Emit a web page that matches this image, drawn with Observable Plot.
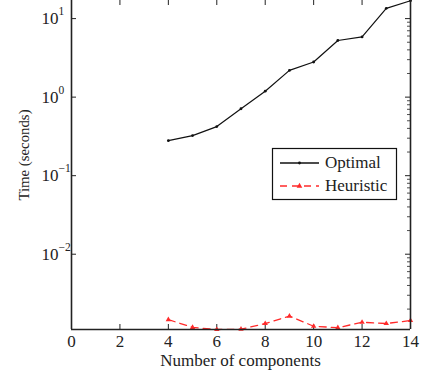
<!DOCTYPE html>
<html>
<head>
<meta charset="utf-8">
<script src="https://cdn.jsdelivr.net/npm/d3@7"></script>
<script src="https://cdn.jsdelivr.net/npm/@observablehq/plot@0.6"></script>
<style>
  html, body { margin: 0; padding: 0; background: #fff; }
  #chart svg { display: block; }
</style>
</head>
<body>
<div id="chart"></div>
<script>
// ---- data ----
const components = [4, 5, 6, 7, 8, 9, 10, 11, 12, 13, 14];
const optimal   = [0.279, 0.324, 0.422, 0.711, 1.19, 2.19, 2.80, 5.26, 5.85, 13.5, 16.9];
const heuristic = [1.47e-3, 1.17e-3, 1.10e-3, 1.11e-3, 1.31e-3, 1.63e-3, 1.21e-3, 1.16e-3, 1.36e-3, 1.31e-3, 1.43e-3];
const xTicks = [0, 2, 4, 6, 8, 10, 12, 14];
const yExponents = [-2, -1, 0, 1];
const seriesNames = ["Optimal", "Heuristic"];
const xLabel = "Number of components";
const yLabel = "Time (seconds)";

const yDomain = [1.1e-3, 17];
const yTicks = yExponents.map(e => 10 ** e);
const minorTicks = [];
for (let e = -3; e <= 1; e++) for (let m = 2; m <= 9; m++) {
  const v = m * 10 ** e;
  if (v > yDomain[0] && v < yDomain[1]) minorTicks.push(v);
}

const optData = components.map((c, i) => ({c, v: optimal[i]}));
const heuData = components.map((c, i) => ({c, v: heuristic[i]}));

const W = 425, H = 377, mL = 71, mR = 15, mT = 0, mB = 48;
const pw = W - mL - mR, ph = H - mT - mB;
const red = "#ff2a2a";
const ink = "#222";

const plot = Plot.plot({
  width: W, height: H,
  marginLeft: mL, marginRight: mR, marginTop: mT, marginBottom: mB,
  style: {fontFamily: "'Liberation Serif', 'Times New Roman', serif", fontSize: "16px", color: ink, background: "#fff"},
  x: {domain: [0, 14]},
  y: {type: "log", domain: yDomain},
  marks: [
    // axis ticks (inward)
    Plot.tickX(xTicks, {x: d => d, insetTop: ph - 5, stroke: ink}),
    Plot.tickX(xTicks, {x: d => d, insetBottom: ph - 5, stroke: ink}),
    Plot.tickY(yTicks, {y: d => d, insetRight: pw - 5, stroke: ink}),
    Plot.tickY(yTicks, {y: d => d, insetLeft: pw - 5, stroke: ink}),
    Plot.tickY(minorTicks, {y: d => d, insetLeft: pw - 3, stroke: ink, strokeOpacity: 0.8}),
    // series
    Plot.line(optData, {x: "c", y: "v", stroke: "#111", strokeWidth: 1.2}),
    Plot.dot(optData, {x: "c", y: "v", r: 1.4, fill: "#111"}),
    Plot.line(heuData, {x: "c", y: "v", stroke: red, strokeWidth: 1.3, strokeDasharray: "7,5"}),
    Plot.dot(heuData, {x: "c", y: "v", r: 2, symbol: "triangle", fill: red}),
    // axis frame lines
    Plot.ruleX([0, 14], {stroke: ink, strokeWidth: 1.6}),
    Plot.ruleY([yDomain[0]], {stroke: ink, strokeWidth: 1.6}),
    // x tick labels
    Plot.axisX({ticks: xTicks, tickSize: 0, tickPadding: 5, label: null, fontSize: 17}),
    // y tick labels 10^k
    Plot.text(yExponents, {y: e => 10 ** e, text: () => "10", frameAnchor: "left", textAnchor: "end", dx: -13, fontSize: 17, fill: ink}),
    Plot.text(yExponents, {y: e => 10 ** e, text: e => e < 0 ? "\u2212" + (-e) : String(e), frameAnchor: "left", textAnchor: "start", dx: -13, dy: -7, fontSize: 11.5, fill: ink}),
    Plot.axisY({ticks: [], tickSize: 0, label: null})
  ]
});

const svg = d3.select(plot);
// axis titles
svg.append("text")
  .attr("x", mL + pw / 2).attr("y", 366)
  .attr("text-anchor", "middle")
  .attr("font-size", 17).attr("fill", ink)
  .text(xLabel);
svg.append("text")
  .attr("transform", `translate(29,155) rotate(-90)`)
  .attr("text-anchor", "middle")
  .attr("font-size", 14.8).attr("fill", ink)
  .text(yLabel);

// legend
const lg = svg.append("g");
lg.append("rect").attr("x", 272.5).attr("y", 148.5).attr("width", 124).attr("height", 51)
  .attr("fill", "#fff").attr("stroke", "#111").attr("stroke-width", 1.2);
const rows = [
  {name: seriesNames[0], color: "#111", dash: null, y: 163},
  {name: seriesNames[1], color: red, dash: "7,5", y: 186}
];
rows.forEach((r, i) => {
  lg.append("line").attr("x1", 280).attr("x2", 319).attr("y1", r.y).attr("y2", r.y)
    .attr("stroke", r.color).attr("stroke-width", 1.3).attr("stroke-dasharray", r.dash);
  if (i === 0) lg.append("circle").attr("cx", 299.5).attr("cy", r.y).attr("r", 1.4).attr("fill", r.color);
  else lg.append("path").attr("d", d3.symbol(d3.symbolTriangle, 14)()).attr("transform", `translate(299.5,${r.y})`).attr("fill", r.color);
  lg.append("text").attr("x", 325).attr("y", r.y + 5).attr("text-anchor", "start")
    .attr("font-size", 17).attr("fill", ink).text(r.name);
});

document.getElementById("chart").appendChild(plot);
</script>
</body>
</html>
